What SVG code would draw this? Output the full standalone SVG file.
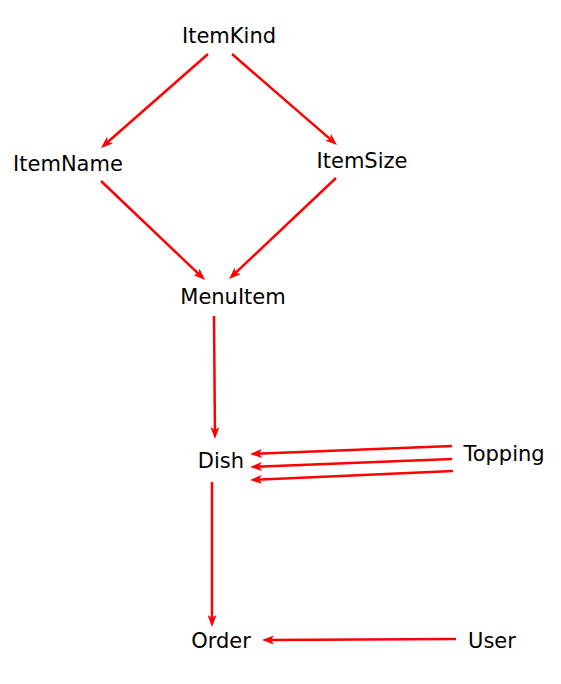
<svg xmlns="http://www.w3.org/2000/svg" width="561" height="684" viewBox="0 0 561 684">
<style>
.lbl{font-family:"DejaVu Sans",Verdana,sans-serif;font-size:21px;fill:#000;text-anchor:middle}
.edge{stroke:#ff0000;stroke-width:2.5;fill:none;marker-end:url(#arr)}
</style>
<defs>
<marker id="arr" markerUnits="userSpaceOnUse" viewBox="0 0 12 9" markerWidth="12" markerHeight="9" refX="6" refY="4.5" orient="auto">
<path d="M0,0 L12,4.5 L0,9 L3,4.5 z" fill="#ff0000"/>
</marker>
</defs>
<rect width="561" height="684" fill="#fff"/>
<g id="connectors">
<line class="edge" x1="208" y1="54" x2="105.5" y2="144"/>
<line class="edge" x1="232" y1="54" x2="332.5" y2="141.1"/>
<line class="edge" x1="101" y1="181" x2="200.7" y2="275.9"/>
<line class="edge" x1="336" y1="178" x2="233.4" y2="274.9"/>
<line class="edge" x1="214" y1="316" x2="214.95" y2="433"/>
<line class="edge" x1="452" y1="446" x2="256" y2="453.8"/>
<line class="edge" x1="452" y1="459" x2="256" y2="466.8"/>
<line class="edge" x1="453" y1="471" x2="256" y2="479.7"/>
<line class="edge" x1="212" y1="482" x2="212" y2="621"/>
<line class="edge" x1="456" y1="639" x2="268" y2="640"/>
</g>
<g id="ItemKind"><text class="lbl" x="229" y="43">ItemKind</text></g>
<g id="ItemName"><text class="lbl" x="68" y="171">ItemName</text></g>
<g id="ItemSize"><text class="lbl" x="362" y="168">ItemSize</text></g>
<g id="MenuItem"><text class="lbl" x="233" y="304">MenuItem</text></g>
<g id="Dish"><text class="lbl" x="221" y="468">Dish</text></g>
<g id="Topping"><text class="lbl" x="504" y="461">Topping</text></g>
<g id="Order"><text class="lbl" x="221" y="648">Order</text></g>
<g id="User"><text class="lbl" x="492" y="648">User</text></g>
</svg>
